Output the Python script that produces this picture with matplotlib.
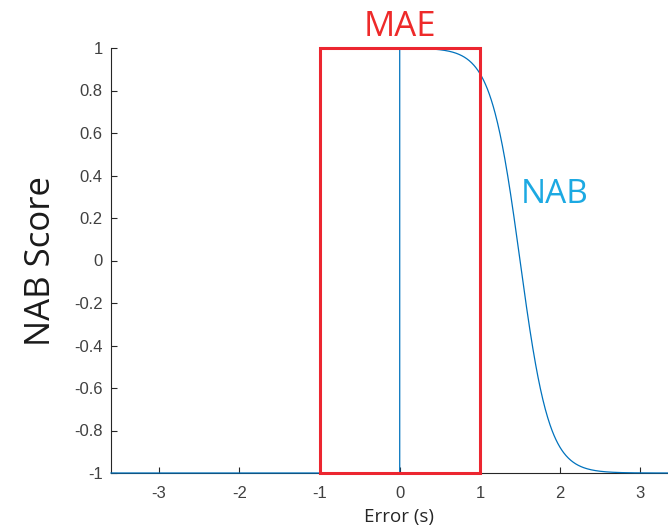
import numpy as np
import matplotlib
matplotlib.use("Agg")
import matplotlib.pyplot as plt
from matplotlib.patches import Rectangle

# ---- data ----
x_ticks = [-3, -2, -1, 0, 1, 2, 3]
x_tick_labels = ["-3", "-2", "-1", "0", "1", "2", "3"]
y_ticks = [-1, -0.8, -0.6, -0.4, -0.2, 0, 0.2, 0.4, 0.6, 0.8, 1]
y_tick_labels = ["-1", "-0.8", "-0.6", "-0.4", "-0.2", "0", "0.2", "0.4", "0.6", "0.8", "1"]
x_range = [-3.6, 3.6]
y_range = [-1, 1]
mae_window = [-1, 1]           # MAE box in error (s)
nab_center = 1.5               # NAB sigmoid midpoint (s)
nab_steepness = 5.5            # NAB sigmoid steepness
nab_low, nab_high = -1.0, 1.0  # score before detection / at detection

# NAB scoring function: -1 before the event, sigmoid decay after it
x_before = np.array([x_range[0], 0.0])
y_before = np.array([nab_low, nab_low])
x_after = np.linspace(0.0, x_range[1], 600)
y_after = 2.0 / (1.0 + np.exp(nab_steepness * (x_after - nab_center))) - 1.0
x_curve = np.concatenate([x_before, x_after])
y_curve = np.concatenate([y_before, y_after])

# ---- figure ----
fig = plt.figure(figsize=(6.68, 5.29), dpi=100)
W, H = 668, 529
left_px, right_px = 111, 111 + 7.2 * 80.2
top_px, bottom_px = 48, 473
ax = fig.add_axes([left_px / W, 1 - bottom_px / H,
                   (right_px - left_px) / W, (bottom_px - top_px) / H])
ax_w = right_px - left_px
ax_h = bottom_px - top_px

axis_col = "#262626"
tick_col = "#404040"

ax.plot(x_curve, y_curve, color="#0072BD", lw=0.9, clip_on=False, zorder=3)

ax.add_patch(Rectangle((mae_window[0], y_range[0]), mae_window[1] - mae_window[0],
                       y_range[1] - y_range[0], fill=False, edgecolor="#EC2630",
                       lw=2.2, clip_on=False, zorder=4))

ax.set_xlim(*x_range)
ax.set_ylim(*y_range)
ax.set_xticks(x_ticks)
ax.set_xticklabels(x_tick_labels)
ax.set_yticks(y_ticks)
ax.set_yticklabels(y_tick_labels)

for s in ["top", "right"]:
    ax.spines[s].set_visible(False)
for s in ["left", "bottom"]:
    ax.spines[s].set_color(axis_col)
    ax.spines[s].set_linewidth(0.8)

ax.tick_params(direction="in", length=4.5, width=0.8, color=axis_col,
               labelcolor=tick_col, labelsize=12)
ax.tick_params(axis="x", pad=9)
ax.tick_params(axis="y", pad=6)
for lab in ax.get_xticklabels() + ax.get_yticklabels():
    lab.set_family(["Liberation Sans", "DejaVu Sans"])

ax.set_xlabel("Error (s)", fontsize=13.5, family=["Open Sans", "DejaVu Sans"],
              color="#262626", va="baseline")
ax.xaxis.set_label_coords((399 - left_px) / ax_w, -(522 - bottom_px) / ax_h)
ax.set_ylabel("NAB Score", fontsize=25, family=["Open Sans", "DejaVu Sans"],
              color="#1a1a1a")
ax.yaxis.set_label_coords(-(left_px - 58) / ax_w, 0.5)

ax.text(0.0, 1.056, "MAE", color="#EE2A2A", fontsize=25,
        family=["Open Sans", "DejaVu Sans"], ha="center", va="baseline",
        clip_on=False)
ax.text(1.51, 0.272, "NAB", color="#1CA9E2", fontsize=24,
        family=["Open Sans", "DejaVu Sans"], ha="left", va="baseline")

fig.savefig("out.png", dpi=100)
